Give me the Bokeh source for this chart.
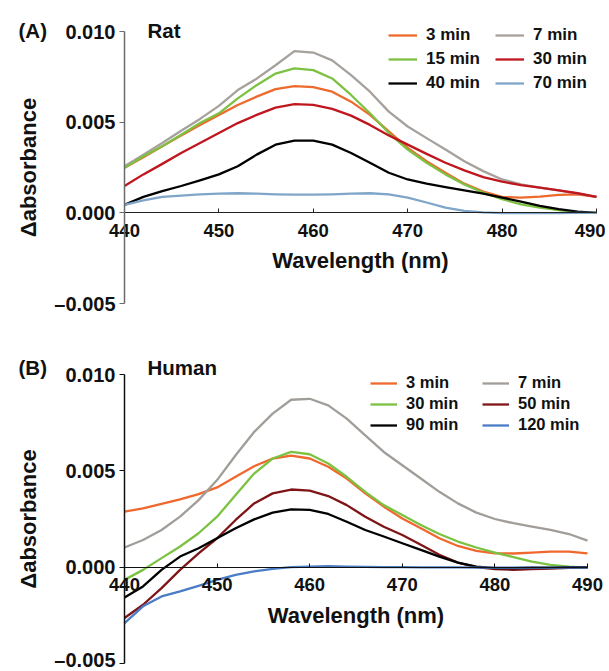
from bokeh.plotting import figure
from bokeh.layouts import column
from bokeh.models import (Range1d, FixedTicker, CustomJSTickFormatter, Legend,
                          LegendItem, Label, ColumnDataSource)
from bokeh.embed import file_html
from bokeh.resources import INLINE

# ---------------- data ----------------
wavelength = [440, 442, 444, 446, 448, 450, 452, 454, 456, 458, 460, 462, 464,
              466, 468, 470, 472, 474, 476, 478, 480, 482, 484, 486, 488, 490]
x_ticks = [440, 450, 460, 470, 480, 490]
y_ticks = [-0.005, 0.0, 0.005, 0.010]

# Panel A - Rat
rat_labels = ["3 min", "7 min", "15 min", "30 min", "40 min", "70 min"]
rat_3 = [0.00248, 0.00307, 0.00367, 0.00427, 0.00485, 0.00540, 0.00595, 0.00641, 0.00682,
         0.00699, 0.00693, 0.00668, 0.00613, 0.00540, 0.00449, 0.00358, 0.00285, 0.00221,
         0.00161, 0.00117, 0.00088, 0.00084, 0.00089, 0.00099, 0.00102, 0.00088]
rat_7 = [0.00257, 0.00321, 0.00385, 0.00453, 0.00518, 0.00590, 0.00677, 0.00740, 0.00814,
         0.00892, 0.00884, 0.00841, 0.00759, 0.00668, 0.00558, 0.00476, 0.00412, 0.00349,
         0.00285, 0.00230, 0.00184, 0.00157, 0.00139, 0.00124, 0.00106, 0.00088]
rat_15 = [0.00248, 0.00312, 0.00367, 0.00431, 0.00495, 0.00549, 0.00631, 0.00704, 0.00768,
          0.00797, 0.00787, 0.00741, 0.00650, 0.00549, 0.00440, 0.00349, 0.00276, 0.00212,
          0.00157, 0.00111, 0.00075, 0.00047, 0.00029, 0.00015, 0.00004, 0.00000]
rat_30 = [0.00148, 0.00212, 0.00270, 0.00330, 0.00385, 0.00440, 0.00495, 0.00540, 0.00580,
          0.00599, 0.00595, 0.00573, 0.00536, 0.00485, 0.00427, 0.00376, 0.00325, 0.00276,
          0.00234, 0.00197, 0.00172, 0.00153, 0.00139, 0.00124, 0.00108, 0.00088]
rat_40 = [0.00044, 0.00088, 0.00120, 0.00148, 0.00179, 0.00212, 0.00257, 0.00321, 0.00376,
          0.00398, 0.00398, 0.00376, 0.00330, 0.00276, 0.00221, 0.00184, 0.00161, 0.00142,
          0.00124, 0.00106, 0.00084, 0.00062, 0.00038, 0.00020, 0.00007, 0.00000]
rat_70 = [0.00044, 0.00069, 0.00088, 0.00095, 0.00102, 0.00106, 0.00108, 0.00106, 0.00102,
          0.00100, 0.00100, 0.00102, 0.00106, 0.00108, 0.00102, 0.00084, 0.00057, 0.00029,
          0.00011, 0.00002, -0.00002, -0.00002, -0.00002, -0.00002, 0.00000, 0.00000]
rat_series = [rat_3, rat_7, rat_15, rat_30, rat_40, rat_70]
rat_colors = ["#EE6A2C", "#A6A19C", "#7DC143", "#C0161E", "#000000", "#7FA6C9"]

# Panel B - Human
hum_labels = ["3 min", "7 min", "30 min", "50 min", "90 min", "120 min"]
hum_3 = [0.00288, 0.00305, 0.00328, 0.00352, 0.00379, 0.00414, 0.00469, 0.00524, 0.00564,
         0.00579, 0.00564, 0.00521, 0.00460, 0.00383, 0.00314, 0.00253, 0.00202, 0.00150,
         0.00110, 0.00084, 0.00072, 0.00071, 0.00076, 0.00081, 0.00081, 0.00072]
hum_7 = [0.00102, 0.00141, 0.00193, 0.00262, 0.00348, 0.00452, 0.00581, 0.00702, 0.00797,
         0.00869, 0.00874, 0.00840, 0.00771, 0.00684, 0.00598, 0.00529, 0.00460, 0.00391,
         0.00331, 0.00283, 0.00250, 0.00228, 0.00210, 0.00193, 0.00172, 0.00138]
hum_30 = [-0.00066, -0.00014, 0.00047, 0.00107, 0.00176, 0.00262, 0.00374, 0.00486, 0.00564,
          0.00598, 0.00586, 0.00538, 0.00469, 0.00391, 0.00322, 0.00271, 0.00219, 0.00172,
          0.00133, 0.00102, 0.00076, 0.00052, 0.00029, 0.00012, 0.00003, -0.00003]
hum_50 = [-0.00264, -0.00195, -0.00109, -0.00014, 0.00072, 0.00150, 0.00245, 0.00331, 0.00383,
          0.00403, 0.00397, 0.00369, 0.00322, 0.00262, 0.00210, 0.00167, 0.00116, 0.00064,
          0.00024, 0.00000, -0.00010, -0.00014, -0.00010, -0.00007, -0.00003, -0.00002]
hum_90 = [-0.00157, -0.00100, -0.00014, 0.00055, 0.00098, 0.00150, 0.00202, 0.00248, 0.00283,
          0.00300, 0.00297, 0.00276, 0.00236, 0.00193, 0.00159, 0.00124, 0.00090, 0.00055,
          0.00024, 0.00003, -0.00005, -0.00005, -0.00003, -0.00002, 0.00000, 0.00000]
hum_120 = [-0.00290, -0.00203, -0.00152, -0.00126, -0.00097, -0.00066, -0.00040, -0.00022, -0.00009,
           0.00000, 0.00003, 0.00005, 0.00003, 0.00001, 0.00000, 0.00000, -0.00001, -0.00001,
           -0.00001, -0.00002, -0.00002, -0.00002, -0.00002, -0.00002, -0.00002, -0.00002]
hum_series = [hum_3, hum_7, hum_30, hum_50, hum_90, hum_120]
hum_colors = ["#F0682D", "#A19D99", "#7CC242", "#801517", "#000000", "#4A7DC4"]

FONT = "Liberation Sans"
TXT = "#111111"
W = 605


def canvas_range(v0, p0, v1, p1, size, vertical=False):
    """Range so that value v0 lands on pixel p0 and v1 on pixel p1 of a canvas of `size`."""
    k = (v1 - v0) / (p1 - p0)
    a = v0 + (0 - p0) * k
    b = v0 + (size - p0) * k
    return Range1d(b, a) if vertical else Range1d(a, b)


def make_panel(height, px440, px490, py10, pym5, series, labels, colors, tag, title,
               axis_color_y, axis_color_x, leg_loc, leg_font, glyph_w, glyph_h,
               leg_spacing, label_w, tag_y):
    xr = canvas_range(440, px440, 490, px490, W)
    yr = canvas_range(0.010, py10, -0.005, pym5, height, vertical=True)
    p = figure(width=W, height=height, output_backend="svg", toolbar_location=None,
               title=None, x_range=xr, y_range=yr, min_border=0,
               min_border_left=0, min_border_right=0, min_border_top=0,
               min_border_bottom=0, outline_line_color=None)
    p.grid.visible = False

    renderers = []
    for ys, c in zip(series, colors):
        src = ColumnDataSource(dict(x=wavelength, y=ys))
        r = p.line("x", "y", source=src, line_color=c, line_width=2.3,
                   line_join="round")
        renderers.append(r)

    # x axis crossing at y = 0
    xa = p.xaxis[0]
    xa.fixed_location = 0
    xa.bounds = (440, 490)
    xa.ticker = FixedTicker(ticks=x_ticks)
    xa.minor_tick_line_color = None
    xa.major_tick_in = 4
    xa.major_tick_out = 0
    xa.axis_line_color = axis_color_x
    xa.major_tick_line_color = axis_color_x
    xa.axis_line_width = 1.2
    xa.major_label_text_font = FONT
    xa.major_label_text_font_style = "bold"
    xa.major_label_text_font_size = "18.5px"
    xa.major_label_text_color = TXT
    xa.major_label_standoff = 11
    xa.axis_label = "Wavelength (nm)"
    xa.axis_label_text_font = FONT
    xa.axis_label_text_font_style = "bold"
    xa.axis_label_text_font_size = "22px"
    xa.axis_label_text_color = TXT
    xa.axis_label_standoff = 8

    # y axis at x = 440
    ya = p.yaxis[0]
    ya.fixed_location = 440
    ya.bounds = (-0.005, 0.010)
    ya.ticker = FixedTicker(ticks=y_ticks)
    ya.formatter = CustomJSTickFormatter(
        code="return tick < -1e-9 ? '\u2013' + Math.abs(tick).toFixed(3) : Math.abs(tick).toFixed(3);")
    ya.minor_tick_line_color = None
    ya.major_tick_in = 0
    ya.major_tick_out = 5
    ya.axis_line_color = axis_color_y
    ya.major_tick_line_color = axis_color_y
    ya.axis_line_width = 1.5
    ya.major_label_text_font = FONT
    ya.major_label_text_font_style = "bold"
    ya.major_label_text_font_size = "20px"
    ya.major_label_text_color = TXT
    ya.major_label_standoff = 4
    ya.axis_label = "\u0394absorbance"
    ya.axis_label_text_font = FONT
    ya.axis_label_text_font_style = "bold"
    ya.axis_label_text_font_size = "22px"
    ya.axis_label_text_color = TXT
    ya.axis_label_standoff = 10

    items = [LegendItem(label=l, renderers=[r]) for l, r in zip(labels, renderers)]
    leg = Legend(items=items, location=leg_loc, orientation="horizontal", ncols=2,
                 padding=0, margin=0, spacing=leg_spacing, border_line_color=None,
                 background_fill_alpha=0, glyph_width=glyph_w, glyph_height=glyph_h,
                 label_height=glyph_h, label_width=label_w, label_standoff=9,
                 label_text_font=FONT, label_text_font_style="bold",
                 label_text_font_size=leg_font, label_text_color=TXT)
    p.add_layout(leg)

    p.add_layout(Label(x=18, y=tag_y, x_units="screen", y_units="screen", text=tag,
                       text_font=FONT, text_font_style="bold", text_font_size="20.5px",
                       text_color=TXT, text_baseline="alphabetic"))
    p.add_layout(Label(x=147, y=tag_y, x_units="screen", y_units="screen", text=title,
                       text_font=FONT, text_font_style="bold", text_font_size="20.5px",
                       text_color=TXT, text_baseline="alphabetic"))
    return p


pa = make_panel(336, 124, 596, 31, 303, rat_series, rat_labels, rat_colors, "(A)", "Rat",
                "#6b6b6b", "#222222", (388, 243), "17px", 29, 20, 4, 65, 306)
pb = make_panel(334, 124, 587, 38, 327, hum_series, hum_labels, hum_colors, "(B)", "Human",
                "#111111", "#111111", (370, 236), "16.5px", 27, 18, 2, 74, 303)

layout = column(pa, pb, spacing=0)
open("out.html", "w").write(file_html(layout, INLINE))
